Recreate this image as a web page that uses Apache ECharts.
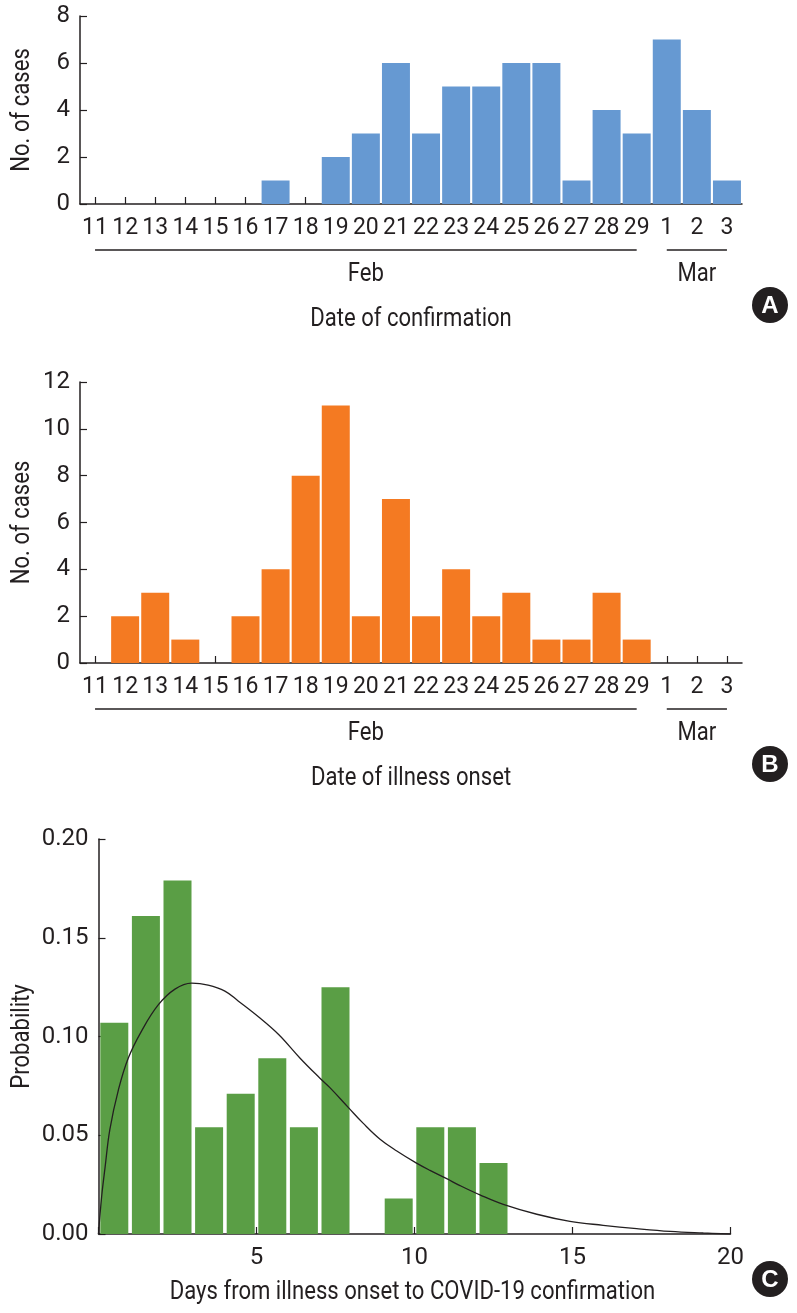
<!DOCTYPE html>
<html>
<head>
<meta charset="utf-8">
<title>COVID-19 cases by date</title>
<script src="https://cdn.jsdelivr.net/npm/echarts@6.0.0/dist/echarts.min.js"></script>
<style>
  html, body { margin: 0; padding: 0; background: #fff; }
  #main { width: 797px; height: 1313px; }
</style>
</head>
<body>
<div id="main"></div>
<script>
// categories: 11-29 Feb, then 1-3 Mar
const dates = ['11', '12', '13', '14', '15', '16', '17', '18', '19', '20', '21', '22', '23', '24', '25', '26', '27', '28', '29', '1', '2', '3'];
const months = [
  { name: 'Feb', from: '11', to: '29' },
  { name: 'Mar', from: '1', to: '3' }
];

// A: date of confirmation
const confirmCases = [0, 0, 0, 0, 0, 0, 1, 0, 2, 3, 6, 3, 5, 5, 6, 6, 1, 4, 3, 7, 4, 1];
// B: date of illness onset
const onsetCases = [0, 2, 3, 1, 0, 2, 4, 8, 11, 2, 7, 2, 4, 2, 3, 1, 1, 3, 1, 0, 0, 0];

// C: days from onset to confirmation (bins start at these days, 1 day wide)
const dayBins = [0, 1, 2, 3, 4, 5, 6, 7, 8, 9, 10, 11, 12];
const probability = [0.107, 0.161, 0.179, 0.054, 0.071, 0.089, 0.054, 0.125, 0, 0.018, 0.054, 0.054, 0.036];

// fitted curve
const fitDays = [0, 0.1, 0.21, 0.36, 0.63, 0.94, 1.37, 1.89, 2.42, 2.95, 3.47, 4.0, 4.42, 5.06, 5.7, 6.38, 7.0, 7.33, 7.91, 8.38, 8.91, 9.44, 10.05, 10.49, 11.02, 11.44, 12.07, 12.81, 13.87, 14.92, 15.97, 17.03, 18.09, 19.14, 20];
const fitDensity = [0, 0.019, 0.034, 0.053, 0.073, 0.089, 0.103, 0.116, 0.124, 0.127, 0.126, 0.123, 0.118, 0.110, 0.101, 0.089, 0.079, 0.074, 0.064, 0.056, 0.048, 0.042, 0.036, 0.0322, 0.028, 0.0245, 0.0198, 0.015, 0.010, 0.0064, 0.0044, 0.0027, 0.0013, 0.0005, 0];

const titles = ['Date of confirmation', 'Date of illness onset', 'Days from illness onset to COVID-19 confirmation'];
const yTitles = ['No. of cases', 'No. of cases', 'Probability'];
const panelLetters = ['A', 'B', 'C'];

const font = "Roboto, 'Liberation Sans', sans-serif";
const ink = '#231f20';
const squeeze = 0.85; // the original uses a condensed face
const axisLine = { show: true, lineStyle: { color: ink, width: 1.5 } };
const axisTick = { show: true, inside: true, length: 7, lineStyle: { color: ink, width: 1.2 } };
const labelStyle = { color: ink, fontFamily: font, fontSize: 24 };

function dateXAxis(gridIndex) {
  return {
    type: 'category',
    gridIndex: gridIndex,
    data: dates,
    axisLine: axisLine,
    axisTick: Object.assign({ alignWithLabel: true }, axisTick),
    axisLabel: Object.assign({ interval: 0, margin: 13 }, labelStyle, { fontSize: 23 }),
    splitLine: { show: false }
  };
}

function countYAxis(gridIndex, max) {
  return {
    type: 'value',
    gridIndex: gridIndex,
    min: 0,
    max: max,
    interval: 2,
    axisLine: axisLine,
    axisTick: axisTick,
    axisLabel: Object.assign({ margin: 10 }, labelStyle),
    splitLine: { show: false }
  };
}

const chart = echarts.init(document.getElementById('main'));

const option = {
  animation: false,
  backgroundColor: '#fff',
  grid: [
    { left: 80, top: 16, width: 662, height: 188, outerBoundsMode: 'none' },
    { left: 80, top: 382, width: 662, height: 281, outerBoundsMode: 'none' },
    { left: 98.5, top: 839, width: 632, height: 395, outerBoundsMode: 'none' }
  ],
  xAxis: [
    dateXAxis(0),
    dateXAxis(1),
    {
      type: 'value',
      gridIndex: 2,
      min: 0,
      max: 20,
      interval: 5,
      axisLine: axisLine,
      axisTick: axisTick,
      axisLabel: Object.assign({
        margin: 12,
        formatter: v => (v === 0 ? '' : v)
      }, labelStyle),
      splitLine: { show: false }
    }
  ],
  yAxis: [
    countYAxis(0, 8),
    countYAxis(1, 12),
    {
      type: 'value',
      gridIndex: 2,
      min: 0,
      max: 0.2,
      interval: 0.05,
      axisLine: axisLine,
      axisTick: axisTick,
      axisLabel: Object.assign({
        margin: 10,
        formatter: v => v.toFixed(2)
      }, labelStyle),
      splitLine: { show: false }
    }
  ],
  series: [
    {
      type: 'bar',
      xAxisIndex: 0,
      yAxisIndex: 0,
      data: confirmCases,
      barCategoryGap: '7%',
      itemStyle: { color: '#6699d2' }
    },
    {
      type: 'bar',
      xAxisIndex: 1,
      yAxisIndex: 1,
      data: onsetCases,
      barCategoryGap: '7%',
      itemStyle: { color: '#f47a22' }
    },
    {
      type: 'bar',
      xAxisIndex: 2,
      yAxisIndex: 2,
      data: dayBins.map((d, i) => [d + 0.5, probability[i]]),
      barWidth: 28,
      itemStyle: { color: '#5a9e45' }
    },
    {
      type: 'line',
      xAxisIndex: 2,
      yAxisIndex: 2,
      data: fitDays.map((d, i) => [d, fitDensity[i]]),
      smooth: 0.4,
      showSymbol: false,
      z: 5,
      lineStyle: { color: ink, width: 1.3 }
    }
  ]
};

chart.setOption(option);

// condensed-looking text: squeeze horizontally around its centre
function label(text, x, y, rotate) {
  return {
    type: 'text',
    x: x,
    y: y,
    rotation: rotate ? Math.PI / 2 : 0,
    scaleX: squeeze,
    style: {
      text: text, fill: ink, font: '26px ' + font,
      textAlign: 'center', textVerticalAlign: 'middle'
    }
  };
}

const graphic = [];
[0, 1, 2].forEach(idx => {
  const base = chart.convertToPixel({ yAxisIndex: idx }, 0);
  const top = chart.convertToPixel({ yAxisIndex: idx }, idx === 0 ? 8 : idx === 1 ? 12 : 0.2);
  const rect = chart.getModel().getComponent('grid', idx).coordinateSystem.getRect();
  const midX = rect.x + rect.width / 2;

  // y axis title
  graphic.push(label(yTitles[idx], 22, (base + top) / 2, true));

  if (idx < 2) {
    // month brackets under the date axes
    months.forEach(m => {
      const x1 = chart.convertToPixel({ xAxisIndex: idx }, m.from);
      const x2 = chart.convertToPixel({ xAxisIndex: idx }, m.to);
      graphic.push({
        type: 'line',
        shape: { x1: x1, y1: base + 46, x2: x2, y2: base + 46 },
        style: { stroke: ink, lineWidth: 1.5 }
      });
      graphic.push(label(m.name, (x1 + x2) / 2, base + 70));
    });
    graphic.push(label(titles[idx], midX, base + 115));
  } else {
    graphic.push(label(titles[idx], midX - 2, base + 58));
  }

  // panel letter badge
  const cy = idx < 2 ? base + 101 : base + 45;
  graphic.push({
    type: 'circle',
    shape: { cx: 770, cy: cy, r: 18 },
    style: { fill: ink }
  });
  graphic.push({
    type: 'text',
    x: 770,
    y: cy + 1,
    z: 10,
    style: {
      text: panelLetters[idx], fill: '#fff', font: "bold 24px 'Liberation Sans', Arial, sans-serif",
      textAlign: 'center', textVerticalAlign: 'middle'
    }
  });
});

chart.setOption({ graphic: graphic });
</script>
</body>
</html>
